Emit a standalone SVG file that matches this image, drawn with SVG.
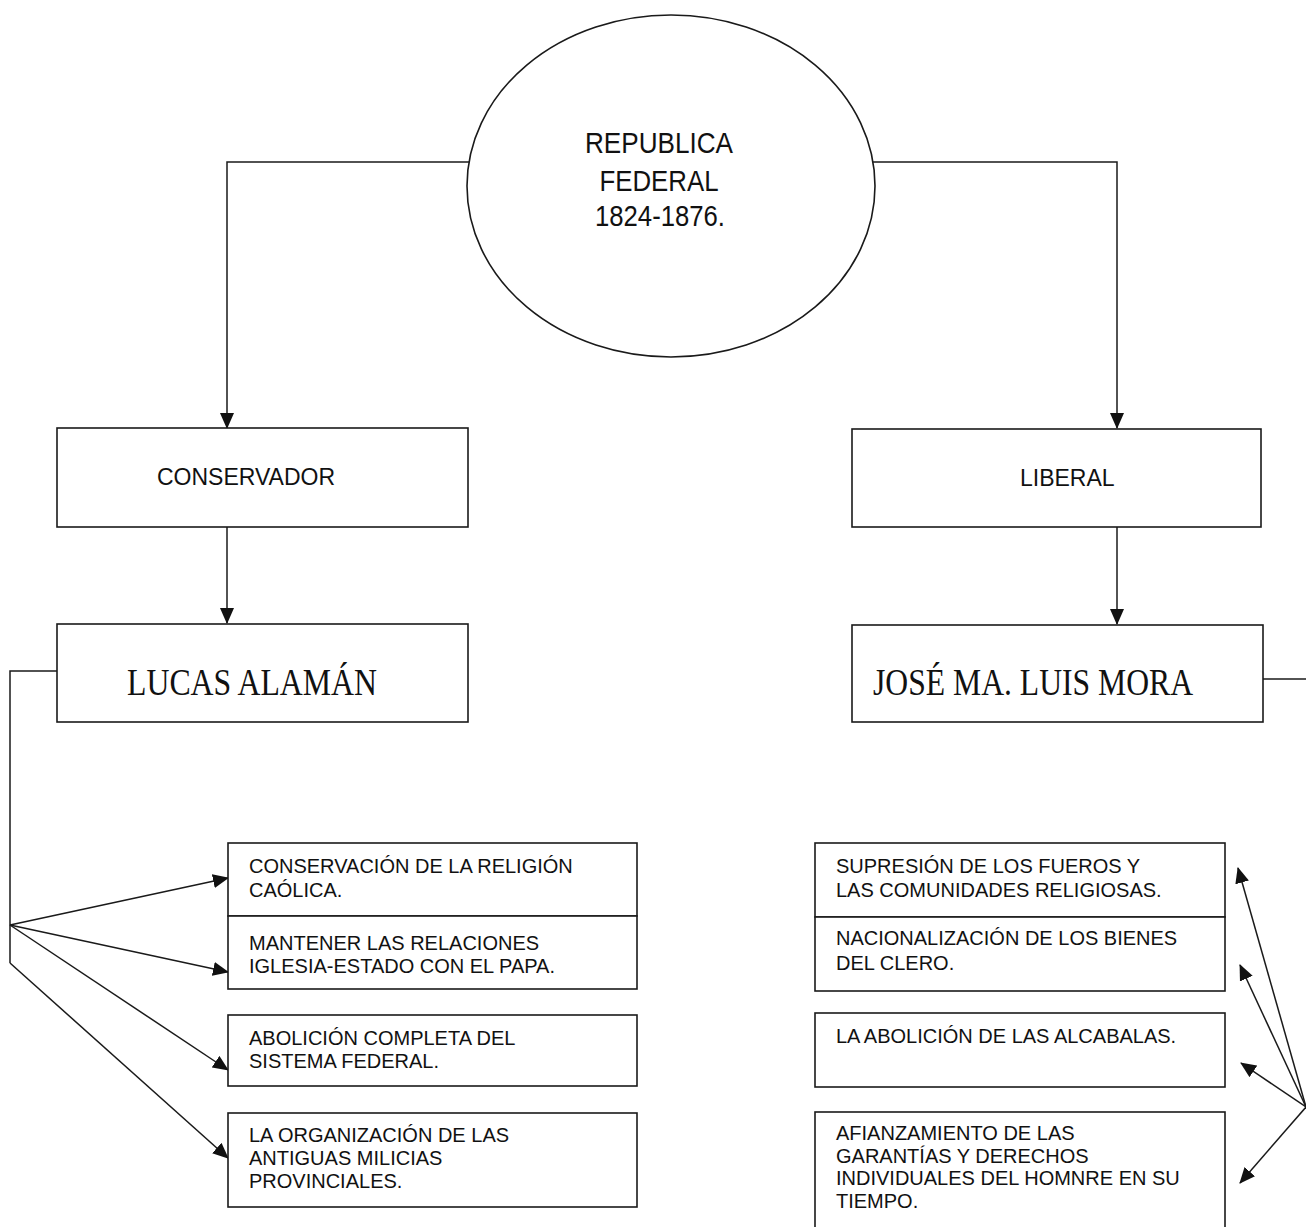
<svg xmlns="http://www.w3.org/2000/svg" width="1306" height="1227" viewBox="0 0 1306 1227">
<style>
.bg{fill:#ffffff}
.box{fill:#ffffff;stroke:#1a1a1a;stroke-width:1.6}
.conn{fill:none;stroke:#1a1a1a;stroke-width:1.5}
.s{font-family:"Liberation Sans",Arial,sans-serif;fill:#111111}
.t{font-family:"Liberation Serif","Times New Roman",serif;fill:#111111}
.item{font-size:20px}
</style>
<defs>
<marker id="ah" markerUnits="userSpaceOnUse" markerWidth="16" markerHeight="14" viewBox="0 0 16 14" refX="15" refY="7" orient="auto">
<path d="M0,0 L16,7 L0,14 Z" fill="#111111"/>
</marker>
</defs>
<rect class="bg" x="0" y="0" width="1306" height="1227"/>

<g id="connectors">
<path class="conn" d="M469,162 H227 V428" marker-end="url(#ah)"/>
<path class="conn" d="M873,162 H1117 V428" marker-end="url(#ah)"/>
<path class="conn" d="M227,527 V623" marker-end="url(#ah)"/>
<path class="conn" d="M1117,527 V624" marker-end="url(#ah)"/>
<path class="conn" d="M57,671 H10 V963"/>
<path class="conn" d="M10,925 L228,878" marker-end="url(#ah)"/>
<path class="conn" d="M10,925 L228,972" marker-end="url(#ah)"/>
<path class="conn" d="M10,925 L228,1070" marker-end="url(#ah)"/>
<path class="conn" d="M10,963 L228,1158" marker-end="url(#ah)"/>
<path class="conn" d="M1263,679 H1306"/>
<path class="conn" d="M1306,1107 L1238,868" marker-end="url(#ah)"/>
<path class="conn" d="M1306,1107 L1240,965" marker-end="url(#ah)"/>
<path class="conn" d="M1306,1107 L1241,1063" marker-end="url(#ah)"/>
<path class="conn" d="M1306,1107 L1240,1183" marker-end="url(#ah)"/>
</g>

<g id="republica">
<ellipse class="box" cx="671" cy="186" rx="204" ry="171"/>
<text class="s" x="659" y="153" font-size="29" text-anchor="middle" textLength="148" lengthAdjust="spacingAndGlyphs">REPUBLICA</text>
<text class="s" x="659" y="191" font-size="29" text-anchor="middle" textLength="119" lengthAdjust="spacingAndGlyphs">FEDERAL</text>
<text class="s" x="660" y="226" font-size="29" text-anchor="middle" textLength="130" lengthAdjust="spacingAndGlyphs">1824-1876.</text>
</g>

<g id="conservador">
<rect class="box" x="57" y="428" width="411" height="99"/>
<text class="s" x="157" y="485" font-size="23">CONSERVADOR</text>
</g>

<g id="liberal">
<rect class="box" x="852" y="429" width="409" height="98"/>
<text class="s" x="1020" y="486" font-size="23">LIBERAL</text>
</g>

<g id="lucas">
<rect class="box" x="57" y="624" width="411" height="98"/>
<text class="t" x="127" y="695" font-size="37" textLength="250" lengthAdjust="spacingAndGlyphs">LUCAS ALAMÁN</text>
</g>

<g id="mora">
<rect class="box" x="852" y="625" width="411" height="97"/>
<text class="t" x="873" y="695" font-size="37" textLength="320" lengthAdjust="spacingAndGlyphs">JOSÉ MA. LUIS MORA</text>
</g>

<g id="c1">
<rect class="box" x="228" y="843" width="409" height="73"/>
<text class="s item" x="249" y="873">CONSERVACIÓN DE LA RELIGIÓN</text>
<text class="s item" x="249" y="897">CAÓLICA.</text>
</g>
<g id="c2">
<rect class="box" x="228" y="916" width="409" height="73"/>
<text class="s item" x="249" y="950">MANTENER LAS RELACIONES</text>
<text class="s item" x="249" y="973">IGLESIA-ESTADO CON EL PAPA.</text>
</g>
<g id="c3">
<rect class="box" x="228" y="1015" width="409" height="71"/>
<text class="s item" x="249" y="1045">ABOLICIÓN COMPLETA DEL</text>
<text class="s item" x="249" y="1068">SISTEMA FEDERAL.</text>
</g>
<g id="c4">
<rect class="box" x="228" y="1113" width="409" height="94"/>
<text class="s item" x="249" y="1142">LA ORGANIZACIÓN DE LAS</text>
<text class="s item" x="249" y="1165">ANTIGUAS MILICIAS</text>
<text class="s item" x="249" y="1188">PROVINCIALES.</text>
</g>

<g id="l1">
<rect class="box" x="815" y="843" width="410" height="74"/>
<text class="s item" x="836" y="873">SUPRESIÓN DE LOS FUEROS Y</text>
<text class="s item" x="836" y="897">LAS COMUNIDADES RELIGIOSAS.</text>
</g>
<g id="l2">
<rect class="box" x="815" y="917" width="410" height="74"/>
<text class="s item" x="836" y="945">NACIONALIZACIÓN DE LOS BIENES</text>
<text class="s item" x="836" y="970">DEL CLERO.</text>
</g>
<g id="l3">
<rect class="box" x="815" y="1013" width="410" height="74"/>
<text class="s item" x="836" y="1043">LA ABOLICIÓN DE LAS ALCABALAS.</text>
</g>
<g id="l4">
<rect class="box" x="815" y="1112" width="410" height="130"/>
<text class="s item" x="836" y="1140">AFIANZAMIENTO DE LAS</text>
<text class="s item" x="836" y="1163">GARANTÍAS Y DERECHOS</text>
<text class="s item" x="836" y="1185">INDIVIDUALES DEL HOMNRE EN SU</text>
<text class="s item" x="836" y="1208">TIEMPO.</text>
</g>
</svg>
